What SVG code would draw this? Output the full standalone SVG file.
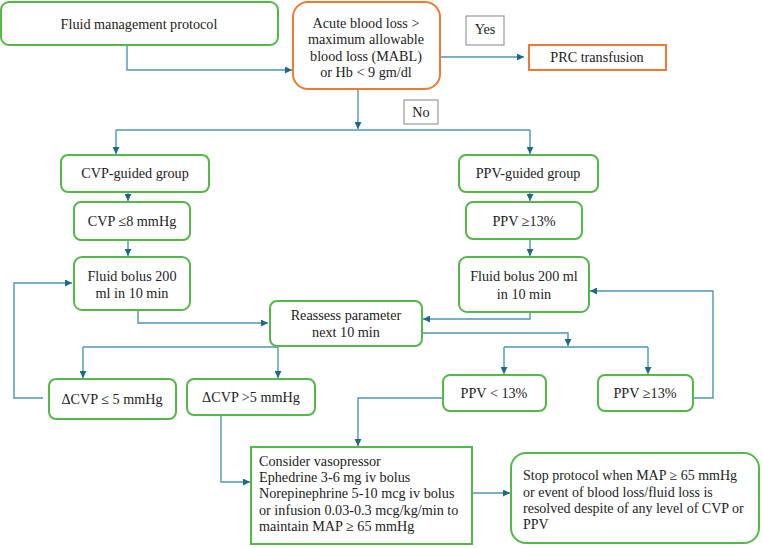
<svg xmlns="http://www.w3.org/2000/svg" width="763" height="548" viewBox="0 0 763 548">
<style>
text{font-family:"Liberation Serif","DejaVu Serif",serif;font-size:14.2px;fill:#222}
.c{text-anchor:middle}
.s{font-size:14px}
.g{fill:#fff;stroke:#52b848;stroke-width:2}
.o{fill:#fff;stroke:#f07a30;stroke-width:2}
.y{fill:#fff;stroke:#999;stroke-width:1.2}
.ln{fill:none;stroke:#4b97b3;stroke-width:1.4}
</style>
<defs>
<marker id="a" viewBox="0 0 10 10" refX="10" refY="5" markerWidth="7" markerHeight="7" markerUnits="userSpaceOnUse" orient="auto">
<path d="M0,0 L10,5 L0,10 z" fill="#1d6a88"/>
</marker>
</defs>
<rect width="763" height="548" fill="#fff"/>

<g id="connectors">
<path class="ln" d="M127,45 V70 H292" marker-end="url(#a)"/>
<path class="ln" d="M440,57 H524" marker-end="url(#a)"/>
<path class="ln" d="M358,89 V129" marker-end="url(#a)"/>
<path class="ln" d="M116,130 H530"/>
<path class="ln" d="M116,130 V154" marker-end="url(#a)"/>
<path class="ln" d="M530,130 V154" marker-end="url(#a)"/>
<path class="ln" d="M128,192 V201" marker-end="url(#a)"/>
<path class="ln" d="M128,240 V256" marker-end="url(#a)"/>
<path class="ln" d="M530,192 V201" marker-end="url(#a)"/>
<path class="ln" d="M530,239 V256" marker-end="url(#a)"/>
<path class="ln" d="M138,310 V323 H268" marker-end="url(#a)"/>
<path class="ln" d="M530,312 V319 H423" marker-end="url(#a)"/>
<path class="ln" d="M83,347 H278"/>
<path class="ln" d="M278,346 V378" marker-end="url(#a)"/>
<path class="ln" d="M83,347 V378" marker-end="url(#a)"/>
<path class="ln" d="M422,333 H568 V346" marker-end="url(#a)"/>
<path class="ln" d="M504,347 H648"/>
<path class="ln" d="M504,347 V374" marker-end="url(#a)"/>
<path class="ln" d="M648,347 V374" marker-end="url(#a)"/>
<path class="ln" d="M43,398 H14 V283 H72" marker-end="url(#a)"/>
<path class="ln" d="M693,398 H713 V291 H590" marker-end="url(#a)"/>
<path class="ln" d="M221,415 V482 H250" marker-end="url(#a)"/>
<path class="ln" d="M443,398 H358 V446" marker-end="url(#a)"/>
<path class="ln" d="M472,493 H510" marker-end="url(#a)"/>
</g>

<g id="n-start">
<rect class="g" x="1" y="2" width="277" height="43" rx="8"/>
<text class="c" x="139" y="29">Fluid management protocol</text>
</g>
<g id="n-acute">
<rect class="o" x="293" y="2" width="147" height="87" rx="15"/>
<text class="c" x="366" y="28">Acute blood loss &gt;</text>
<text class="c" x="366" y="44">maximum allowable</text>
<text class="c" x="366" y="61">blood loss (MABL)</text>
<text class="c" x="366" y="77">or Hb &lt; 9 gm/dl</text>
</g>
<g id="l-yes">
<rect class="y" x="466" y="16" width="38" height="29"/>
<text class="c" x="485" y="34">Yes</text>
</g>
<g id="n-prc">
<rect class="o" x="529" y="45" width="137" height="25"/>
<text class="c" x="597" y="62">PRC transfusion</text>
</g>
<g id="l-no">
<rect class="y" x="404" y="100" width="34" height="24"/>
<text class="c" x="421" y="117">No</text>
</g>
<g id="n-cvpg">
<rect class="g" x="61" y="155" width="148" height="37" rx="7"/>
<text class="c" x="135" y="178">CVP-guided group</text>
</g>
<g id="n-cvp8">
<rect class="g" x="74" y="202" width="116" height="38" rx="7"/>
<text class="c" x="132" y="226">CVP ≤8 mmHg</text>
</g>
<g id="n-fb1">
<rect class="g" x="74" y="257" width="116" height="53" rx="8"/>
<text class="c" x="132" y="281">Fluid bolus 200</text>
<text class="c" x="132" y="298">ml in 10 min</text>
</g>
<g id="n-ppvg">
<rect class="g" x="459" y="155" width="139" height="37" rx="7"/>
<text class="c" x="528" y="178">PPV-guided group</text>
</g>
<g id="n-ppv13">
<rect class="g" x="466" y="202" width="116" height="37" rx="7"/>
<text class="c" x="524" y="226">PPV ≥13%</text>
</g>
<g id="n-fb2">
<rect class="g" x="459" y="257" width="130" height="55" rx="8"/>
<text class="c" x="524" y="281">Fluid bolus 200 ml</text>
<text class="c" x="524" y="299">in 10 min</text>
</g>
<g id="n-reassess">
<rect class="g" x="270" y="301" width="152" height="45" rx="7"/>
<text class="c" x="346" y="320">Reassess parameter</text>
<text class="c" x="346" y="337">next 10 min</text>
</g>
<g id="n-dcvp1">
<rect class="g" x="49" y="379" width="127" height="40" rx="7"/>
<text class="c" x="112" y="404">ΔCVP ≤ 5 mmHg</text>
</g>
<g id="n-dcvp2">
<rect class="g" x="187" y="379" width="128" height="36" rx="7"/>
<text class="c" x="251" y="402">ΔCVP &gt;5 mmHg</text>
</g>
<g id="n-ppvlt">
<rect class="g" x="443" y="375" width="103" height="36" rx="7"/>
<text class="c" x="494" y="398">PPV &lt; 13%</text>
</g>
<g id="n-ppvge">
<rect class="g" x="598" y="375" width="95" height="36" rx="7"/>
<text class="c" x="645" y="398">PPV ≥13%</text>
</g>
<g id="n-vaso">
<rect class="g" x="251" y="447" width="221" height="97"/>
<text x="259" y="466">Consider vasopressor</text>
<text x="259" y="482">Ephedrine 3-6 mg iv bolus</text>
<text x="259" y="498">Norepinephrine 5-10 mcg iv bolus</text>
<text x="259" y="515">or infusion 0.03-0.3 mcg/kg/min to</text>
<text x="259" y="531">maintain MAP ≥ 65 mmHg</text>
</g>
<g id="n-stop">
<rect class="g" x="511" y="453" width="248" height="90" rx="15"/>
<text class="s" x="523" y="480">Stop protocol when MAP ≥ 65 mmHg</text>
<text class="s" x="523" y="497">or event of blood loss/fluid loss is</text>
<text class="s" x="523" y="513">resolved despite of any level of CVP or</text>
<text class="s" x="523" y="529">PPV</text>
</g>
</svg>
